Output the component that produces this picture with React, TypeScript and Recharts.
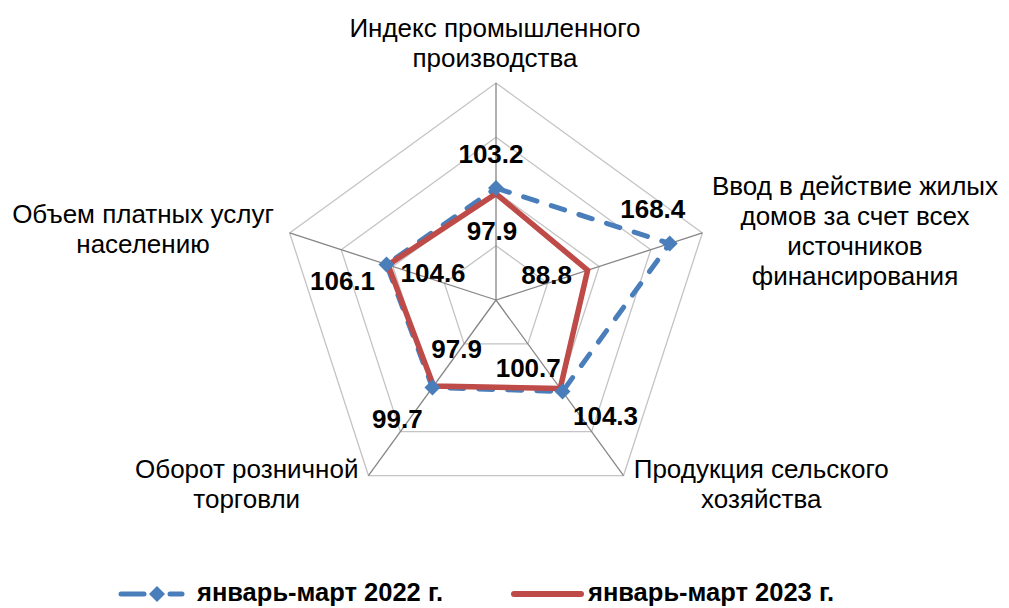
import React from "react";
import {
  RadarChart,
  Radar,
  PolarGrid,
  PolarAngleAxis,
  PolarRadiusAxis,
  Legend,
} from "recharts";

const categories = [
  "Индекс промышленного производства",
  "Ввод в действие жилых домов за счет всех источников финансирования",
  "Продукция сельского хозяйства",
  "Оборот розничной торговли",
  "Объем платных услуг населению",
];

const categoryLines = [
  ["Индекс промышленного", "производства"],
  ["Ввод в действие жилых", "домов за счет всех", "источников", "финансирования"],
  ["Продукция сельского", "хозяйства"],
  ["Оборот розничной", "торговли"],
  ["Объем платных услуг", "населению"],
];

const values2022 = [103.2, 168.4, 104.3, 99.7, 106.1];
const values2023 = [97.9, 88.8, 100.7, 97.9, 104.6];
const seriesNames = ["январь-март 2022 г.", "январь-март 2023 г."];

const BLUE = "#4a7ebb";
const RED = "#be4b48";
const FONT = "'Liberation Sans', Arial, sans-serif";

const data = categories.map((name, i) => ({
  name,
  y2022: values2022[i],
  y2023: values2023[i],
}));

// label placement around each vertex (dx = centre, dy = first baseline)
const tickOffsets = [
  { dx: -1, dy: -38 },
  { dx: 145, dy: -35 },
  { dx: 133, dy: -4 },
  { dx: -117, dy: -4 },
  { dx: -139, dy: -7 },
];

const labelOffsets2022 = [
  { dx: -5, dy: -25 },
  { dx: -17, dy: -26 },
  { dx: 43, dy: 33 },
  { dx: -35, dy: 40 },
  { dx: -44, dy: 26 },
];

const labelOffsets2023 = [
  { dx: -4, dy: 46 },
  { dx: -41, dy: 14 },
  { dx: -32, dy: -11 },
  { dx: 23, dy: -28 },
  { dx: 45, dy: 17 },
];

const CategoryTick = (props: any) => {
  const { x, y, payload } = props;
  const idx = payload.index ?? props.index ?? 0;
  const off = tickOffsets[idx];
  const lines = categoryLines[idx];
  return (
    <text
      x={x + off.dx}
      y={y + off.dy}
      textAnchor="middle"
      fontFamily={FONT}
      fontSize={26}
      fill="#000"
    >
      {lines.map((l, i) => (
        <tspan key={i} x={x + off.dx} y={y + off.dy + i * 30}>
          {l}
        </tspan>
      ))}
    </text>
  );
};

const makeDot = (
  values: number[],
  offsets: { dx: number; dy: number }[],
  marker: boolean
) => {
  return (props: any) => {
    const { cx, cy, index } = props;
    const off = offsets[index];
    const label = values[index].toFixed(1);
    return (
      <g key={`dot-${index}`}>
        {marker && (
          <path
            d={`M${cx},${cy - 8}L${cx + 8},${cy}L${cx},${cy + 8}L${cx - 8},${cy}Z`}
            fill={BLUE}
          />
        )}
        <text
          x={cx + off.dx}
          y={cy + off.dy}
          textAnchor="middle"
          fontFamily={FONT}
          fontSize={26}
          fontWeight="bold"
          fill="#000"
        >
          {label}
        </text>
      </g>
    );
  };
};

const renderLegend = () => (
  <svg width={1009} height={30}>
    <line x1={121} x2={144} y1={16} y2={16} stroke={BLUE} strokeWidth={5} strokeLinecap="round" />
    <line x1={170} x2={182} y1={16} y2={16} stroke={BLUE} strokeWidth={5} strokeLinecap="round" />
    <path d="M157,8L165,16L157,24L149,16Z" fill={BLUE} />
    <text x={197} y={23} fontFamily={FONT} fontSize={25.5} fontWeight="bold" fill="#000">
      {seriesNames[0]}
    </text>
    <line x1={514} x2={581} y1={16} y2={16} stroke={RED} strokeWidth={6} strokeLinecap="round" />
    <text x={588} y={23} fontFamily={FONT} fontSize={25.5} fontWeight="bold" fill="#000">
      {seriesNames[1]}
    </text>
  </svg>
);

export default function App() {
  return (
    <div style={{ position: "absolute", left: 0, top: 0, background: "#fff" }}>
      <RadarChart
        width={1009}
        height={608}
        data={data}
        cx={496}
        cy={300}
        outerRadius={217}
        margin={{ top: 0, right: 0, bottom: 0, left: 0 }}
      >
        <PolarGrid gridType="polygon" radialLines={false} stroke="#c4c4c4" strokeWidth={1.3} />
        <PolarGrid gridType="polygon" polarRadius={[]} stroke="#868686" strokeWidth={1.3} />
        <PolarAngleAxis
          dataKey="name"
          tick={CategoryTick}
          tickLine={false}
          axisLine={false}
        />
        <PolarRadiusAxis
          angle={90}
          domain={[0, 200]}
          tickCount={5}
          tick={false}
          axisLine={false}
        />
        <Radar
          name={seriesNames[0]}
          dataKey="y2022"
          stroke={BLUE}
          strokeWidth={5}
          strokeDasharray="14 15"
          strokeLinecap="round"
          fill="none"
          fillOpacity={0}
          dot={makeDot(values2022, labelOffsets2022, true)}
          isAnimationActive={false}
        />
        <Radar
          name={seriesNames[1]}
          dataKey="y2023"
          stroke={RED}
          strokeWidth={5.5}
          fill="none"
          fillOpacity={0}
          dot={makeDot(values2023, labelOffsets2023, false)}
          isAnimationActive={false}
        />
        <Legend
          content={renderLegend}
          wrapperStyle={{ left: 0, top: 578, bottom: "auto", width: 1009, height: 30 }}
        />
      </RadarChart>
    </div>
  );
}
